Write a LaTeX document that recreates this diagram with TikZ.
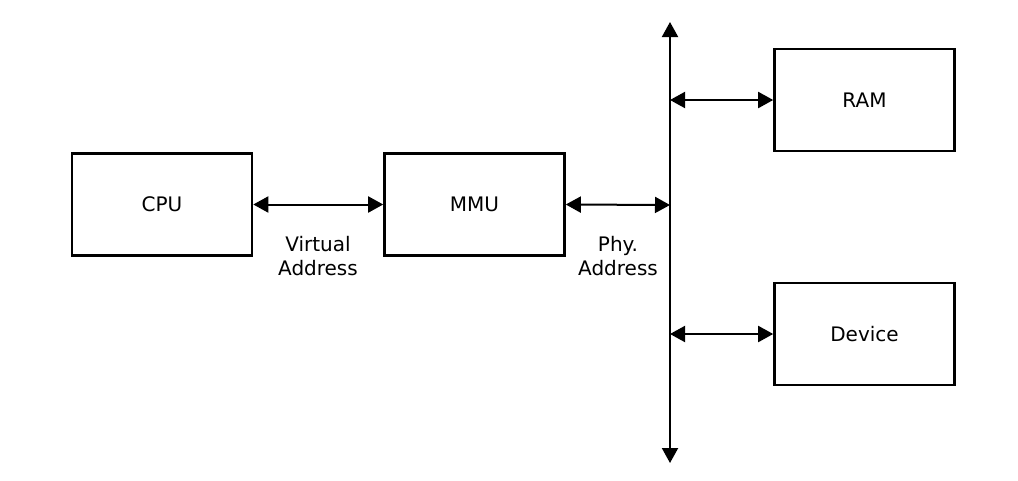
\documentclass[tikz,border=0pt]{standalone}
\usepackage{fontspec}
\setmainfont{DejaVu Sans}
\usetikzlibrary{arrows.meta}
\begin{document}
\begin{tikzpicture}[x=1pt,y=-1pt,
  box/.style={draw, line width=2.6pt, minimum width=180pt, minimum height=102pt, inner sep=0pt, font=\fontsize{20}{24}\selectfont},
  link/.style={line width=2pt, {Triangle[length=15pt,width=16pt]}-{Triangle[length=15pt,width=16pt]}},
  lbl/.style={align=center, font=\fontsize{20}{24}\selectfont}]
\useasboundingbox (0,0) rectangle (1018,480);
\node[box] (cpu) at (162,204.5) {CPU};
\node[box] (mmu) at (474.5,204.5) {MMU};
\node[box] (ram) at (864.5,100) {RAM};
\node[box] (dev) at (864.5,334) {Device};
\coordinate (bt) at (670,22);
\coordinate (bb) at (670,463);
\coordinate (bm) at (670,205);
\coordinate (br) at (670,100);
\coordinate (bd) at (670,334);
\draw[link] (bb) -- (bt);
\draw[link] (cpu.east) -- (mmu.west);
\draw[link] (mmu.east) -- (bm);
\draw[link] (br) -- (ram.west);
\draw[link] (bd) -- (dev.west);
\node[lbl] (va) at (318,256) {Virtual\\Address};
\node[lbl] (pa) at (618,256) {Phy.\\Address};
\end{tikzpicture}
\end{document}
